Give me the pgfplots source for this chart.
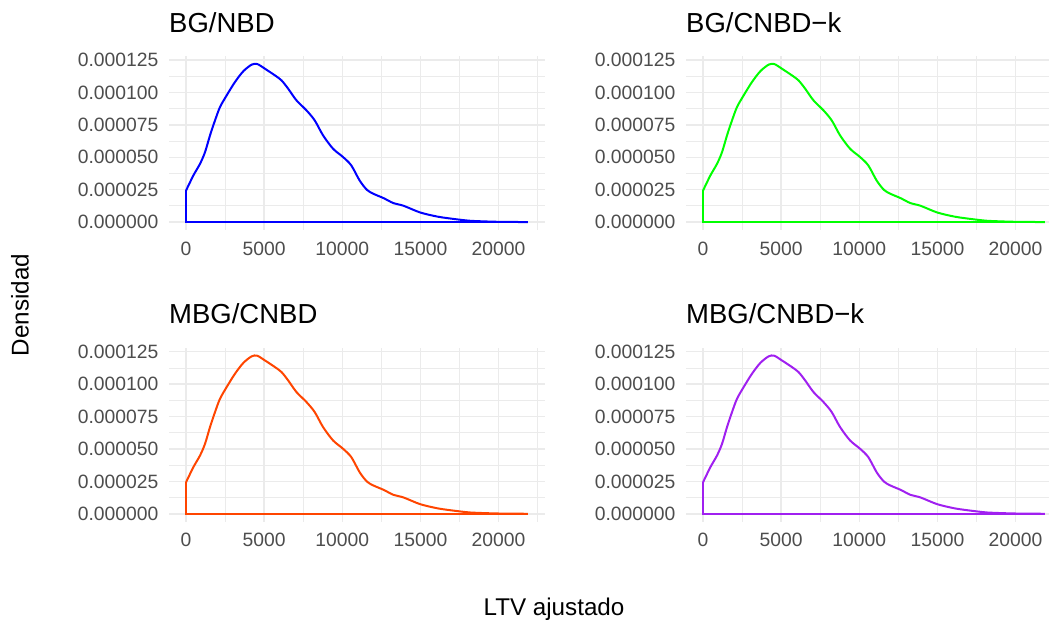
\documentclass[border=0pt]{standalone}
\usepackage{pgfplots}
\pgfplotsset{compat=1.18}
\usepackage{pgfplotstable}
\usepackage{fontspec}
\setmainfont{Liberation Sans}

\definecolor{gridgrey}{RGB}{235,235,235}
\definecolor{tickgrey}{RGB}{77,77,77}
\definecolor{cBG}{RGB}{0,0,255}
\definecolor{cBGk}{RGB}{0,255,0}
\definecolor{cMBG}{RGB}{255,69,0}
\definecolor{cMBGk}{RGB}{160,32,240}

% Kernel density of the fitted LTV (identical for the four models)
\pgfplotstableread{
x      y
0      2.44e-5
468    3.60e-5
894    4.50e-5
1213   5.40e-5
1532   6.69e-5
1851   7.84e-5
2170   8.87e-5
2596   9.77e-5
3128   1.080e-4
3660   1.163e-4
4192   1.214e-4
4554   1.219e-4
5043   1.183e-4
5681   1.132e-4
6107   1.093e-4
6532   1.029e-4
7064   9.39e-5
7703   8.62e-5
8235   7.84e-5
8767   6.69e-5
9405   5.66e-5
10043  5.02e-5
10575  4.37e-5
11107  3.21e-5
11572  2.49e-5
11995  2.18e-5
12635  1.85e-5
13276  1.46e-5
13916  1.26e-5
14985  7.4e-6
16055  4.3e-6
16695  3.1e-6
17547  1.8e-6
18187  1.0e-6
19257  4.6e-7
20110  2.0e-7
21880  0
}\ltvdens

% Lower edge of the density area
\pgfplotstableread{
x      y
0      2.44e-5
0      0
21880  0
}\ltvbase

\pgfplotsset{
  panel/.style={
    scale only axis,
    width=376pt, height=174pt,
    anchor=south west,
    xmin=-1094, xmax=22974,
    ymin=-6.1e-6, ymax=1.281e-4,
    xtick={0,5000,10000,15000,20000},
    xticklabels={0,5000,10000,15000,20000},
    ytick={0,2.5e-5,5e-5,7.5e-5,1e-4,1.25e-4},
    yticklabels={0.000000,0.000025,0.000050,0.000075,0.000100,0.000125},
    minor xtick={2500,7500,12500,17500,22500},
    minor ytick={1.25e-5,3.75e-5,6.25e-5,8.75e-5,1.125e-4},
    scaled x ticks=false,
    scaled y ticks=false,
    grid=both,
    major grid style={line width=1.5pt, draw=gridgrey},
    minor grid style={line width=0.8pt, draw=gridgrey},
    axis line style={draw=none},
    major tick length=0pt, minor tick length=0pt,
    tick style={draw=none},
    ticklabel style={font=\fontsize{19.3}{19.3}\selectfont, text=tickgrey, inner sep=0pt},
    yticklabel style={anchor=east, xshift=-10.5pt},
    xticklabel style={anchor=north, yshift=-11.5pt},
    title style={at={(rel axis cs:0,1)}, anchor=base west, yshift=17.7pt,
                 inner sep=0pt, font=\fontsize{27.5}{27.5}\selectfont},
  },
  dens/.style={line width=2pt, smooth, tension=0.5, no marks},
  base/.style={line width=2pt, no marks},
}

\begin{document}
\begin{tikzpicture}[x=1pt,y=1pt]
\path[use as bounding box] (0,0) rectangle (1049,620);
\clip (0,0) rectangle (1049,620);

\begin{axis}[panel, at={(169pt,390pt)}, title={BG/NBD}]
  \addplot[dens, cBG] table[x=x,y=y] {\ltvdens};
  \addplot[base, cBG] table[x=x,y=y] {\ltvbase};
\end{axis}

\begin{axis}[panel, at={(686pt,390pt)}, title={BG/CNBD−k}]
  \addplot[dens, cBGk] table[x=x,y=y] {\ltvdens};
  \addplot[base, cBGk] table[x=x,y=y] {\ltvbase};
\end{axis}

\begin{axis}[panel, at={(169pt,98.3pt)}, title={MBG/CNBD}]
  \addplot[dens, cMBG] table[x=x,y=y] {\ltvdens};
  \addplot[base, cMBG] table[x=x,y=y] {\ltvbase};
\end{axis}

\begin{axis}[panel, at={(686pt,98.3pt)}, title={MBG/CNBD−k}]
  \addplot[dens, cMBGk] table[x=x,y=y] {\ltvdens};
  \addplot[base, cMBGk] table[x=x,y=y] {\ltvbase};
\end{axis}

% Shared axis titles
\node[rotate=90, anchor=center, inner sep=0pt, font=\fontsize{24.2}{24.2}\selectfont]
  at (20,315) {Densidad};
\node[anchor=base, inner sep=0pt, font=\fontsize{24.2}{24.2}\selectfont]
  at (554,4) {LTV ajustado};
\end{tikzpicture}
\end{document}
